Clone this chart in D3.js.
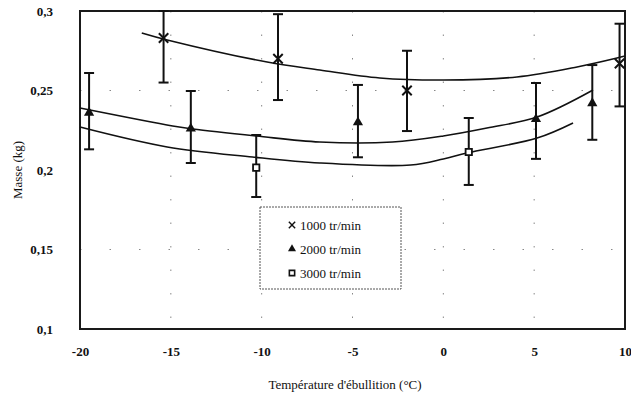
<!DOCTYPE html>
<html><head><meta charset="utf-8">
<script src="https://cdn.jsdelivr.net/npm/d3@7/dist/d3.min.js"></script>
<style>
html,body{margin:0;padding:0;background:#fff;}
svg{display:block;}
text{font-family:"Liberation Serif","DejaVu Serif",serif;fill:#111;}
</style></head>
<body>
<svg id="chart" width="631" height="404"></svg>
<script>
// ---- data ----
const seriesNames = ["1000 tr/min", "2000 tr/min", "3000 tr/min"];
const xTicks = [-20, -15, -10, -5, 0, 5, 10];
const xTickLabels = ["-20", "-15", "-10", "-5", "0", "5", "10"];
const yTicks = [0.1, 0.15, 0.2, 0.25, 0.3];
const yTickLabels = ["0,1", "0,15", "0,2", "0,25", "0,3"];

// measured points: temperature, mass, error low, error high
const temp1000 = [-15.4, -9.1, -2.0, 9.7];
const mass1000 = [0.283, 0.270, 0.250, 0.267];
const low1000  = [0.255, 0.244, 0.2245, 0.240];
const high1000 = [0.300, 0.298, 0.275, 0.292];

const temp2000 = [-19.5, -13.9, -4.7, 5.1, 8.2];
const mass2000 = [0.236, 0.226, 0.230, 0.232, 0.242];
const low2000  = [0.213, 0.2044, 0.208, 0.207, 0.219];
const high2000 = [0.261, 0.2497, 0.2535, 0.2547, 0.266];

const temp3000 = [-10.3, 1.4];
const mass3000 = [0.2015, 0.2113];
const low3000  = [0.183, 0.1906];
const high3000 = [0.222, 0.2327];

// trend curves
const trendX1000 = [-16.6, -15.2, -9.7, -6.8, -3.5, 0.0, 4.05, 7.36, 9.56, 10];
const trendY1000 = [0.2862, 0.2818, 0.2679, 0.2629, 0.2579, 0.2566, 0.2585, 0.2648, 0.2704, 0.2717];
const trendX2000 = [-20, -14.9, -13.8, -10.3, -6.8, -2.8, 0.0, 2.4, 5.16, 8.24];
const trendY2000 = [0.239, 0.2277, 0.2258, 0.2214, 0.2176, 0.2176, 0.2214, 0.2264, 0.2333, 0.2503];
const trendX3000 = [-20, -15.2, -10.5, -6.8, -1.8, 0.0, 1.3, 5.16, 7.14];
const trendY3000 = [0.227, 0.2145, 0.2082, 0.2044, 0.2031, 0.2069, 0.2107, 0.2201, 0.2296];

// ---- drawing ----
const svg = d3.select("#chart");
const L = 80, R = 625, T = 11, B = 329;
const x = d3.scaleLinear().domain([-20, 10]).range([L, R]);
const y = d3.scaleLinear().domain([0.1, 0.3]).range([B, T]);

// faint dotted grid
const g = svg.append("g");
[-15, -10, -5, 0, 5].forEach(v => {
  g.append("line").attr("x1", x(v)).attr("x2", x(v)).attr("y1", T).attr("y2", B)
   .attr("stroke", "#888").attr("stroke-width", 1).attr("stroke-dasharray", "1.5,22");
});
[0.15, 0.25].forEach(v => {
  g.append("line").attr("x1", L).attr("x2", R).attr("y1", y(v)).attr("y2", y(v))
   .attr("stroke", "#888").attr("stroke-width", 1).attr("stroke-dasharray", "1.5,28");
});

// axes
const xAxis = d3.axisBottom(x).tickValues(xTicks).tickSize(0).tickPadding(18)
  .tickFormat((d, i) => xTickLabels[i]);
const yAxis = d3.axisLeft(y).tickValues(yTicks).tickSize(0).tickPadding(27)
  .tickFormat((d, i) => yTickLabels[i]);
const xa = svg.append("g").attr("transform", `translate(0,${B})`).call(xAxis);
const ya = svg.append("g").attr("transform", `translate(${L},0)`).call(yAxis);
[xa, ya].forEach(a => {
  a.select(".domain").remove();
  a.selectAll("text").style("font-family", "'Liberation Serif',serif").style("font-size", "13px")
   .style("font-weight", "bold").attr("fill", "#222");
});
xa.selectAll("text").attr("dy", "0.71em");

// frame
svg.append("rect").attr("x", L).attr("y", T).attr("width", R - L).attr("height", B - T)
  .attr("fill", "none").attr("stroke", "#1a1a1a").attr("stroke-width", 2);

// trend curves
const line = d3.line().x(d => x(d[0])).y(d => y(d[1])).curve(d3.curveCatmullRom.alpha(0.5));
[[trendX1000, trendY1000], [trendX2000, trendY2000], [trendX3000, trendY3000]].forEach(([xs, ys]) => {
  svg.append("path").datum(xs.map((v, i) => [v, ys[i]])).attr("d", line)
    .attr("fill", "none").attr("stroke", "#111").attr("stroke-width", 1.6);
});

// error bars + markers
const sym = {
  cross: d3.symbol().type(d3.symbolX).size(60),
  tri: d3.symbol().type(d3.symbolTriangle).size(45),
  sq: d3.symbol().type(d3.symbolSquare).size(40)
};
function drawSeries(xs, ms, lo, hi, kind) {
  xs.forEach((v, i) => {
    const cx = x(v);
    svg.append("line").attr("x1", cx).attr("x2", cx).attr("y1", y(lo[i])).attr("y2", y(hi[i]))
      .attr("stroke", "#111").attr("stroke-width", 2);
    [lo[i], hi[i]].forEach(e => svg.append("line").attr("x1", cx - 5).attr("x2", cx + 5)
      .attr("y1", y(e)).attr("y2", y(e)).attr("stroke", "#111").attr("stroke-width", 2));
    const p = svg.append("path").attr("d", sym[kind]()).attr("transform", `translate(${cx},${y(ms[i])})`);
    if (kind === "sq") p.attr("fill", "#fff").attr("stroke", "#111").attr("stroke-width", 1.8);
    else if (kind === "cross") p.attr("fill", "#111").attr("stroke", "#111").attr("stroke-width", 2);
    else p.attr("fill", "#111");
  });
}
drawSeries(temp1000, mass1000, low1000, high1000, "cross");
drawSeries(temp2000, mass2000, low2000, high2000, "tri");
drawSeries(temp3000, mass3000, low3000, high3000, "sq");

// legend
const lg = svg.append("g");
lg.append("rect").attr("x", 260).attr("y", 207).attr("width", 141).attr("height", 82)
  .attr("fill", "#fff").attr("stroke", "#555").attr("stroke-width", 1).attr("stroke-dasharray", "2,1");
seriesNames.forEach((n, i) => {
  const ly = 225 + i * 24;
  const p = lg.append("path").attr("d", d3.symbol().type([d3.symbolX, d3.symbolTriangle, d3.symbolSquare][i]).size(28)())
    .attr("transform", `translate(292,${ly})`);
  if (i === 2) p.attr("fill", "#fff").attr("stroke", "#111").attr("stroke-width", 1.6);
  else p.attr("fill", "#111").attr("stroke", "#111").attr("stroke-width", i === 0 ? 1.4 : 0);
  lg.append("text").attr("x", 300).attr("y", ly).attr("dy", "0.35em")
    .style("font-size", "13px").text(n);
});

// axis titles
svg.append("text").attr("x", 345).attr("y", 389).attr("text-anchor", "middle")
  .style("font-size", "13px").text("Température d'ébullition (°C)");
svg.append("text").attr("transform", "translate(22,170) rotate(-90)").attr("text-anchor", "middle")
  .style("font-size", "13px").text("Masse (kg)");
</script>
</body></html>
